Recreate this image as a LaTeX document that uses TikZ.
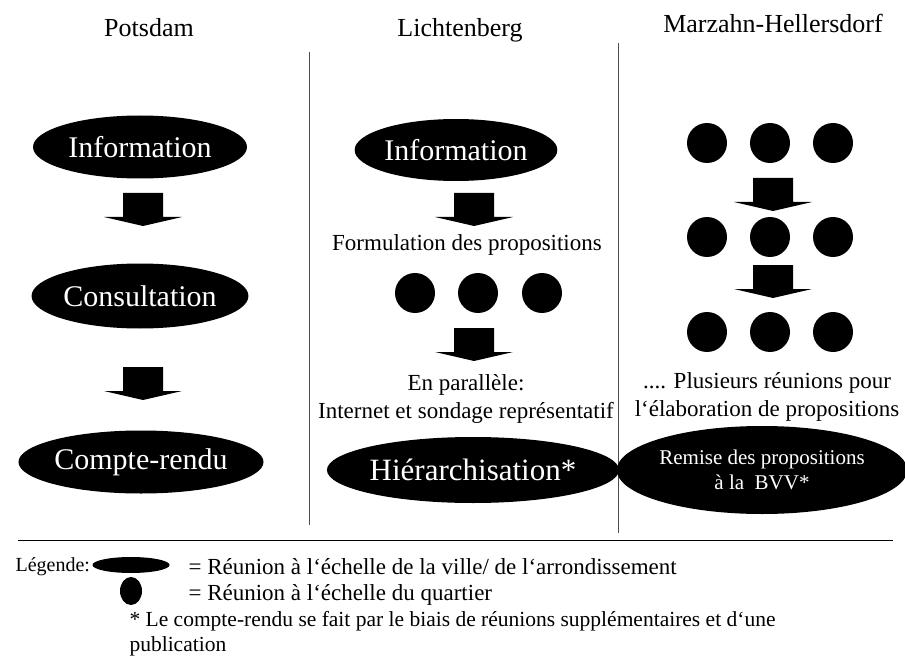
\documentclass[tikz,border=0pt]{standalone}
\usepackage{fontspec}
\setmainfont{Liberation Serif}
\usetikzlibrary{calc, positioning}
\usetikzlibrary{shapes.geometric}

\begin{document}
\begin{tikzpicture}[x=1pt, y=-1pt,
  meet/.style={ellipse, fill=black, text=white, inner sep=0pt, font=\fontsize{30}{34}\selectfont},
  dot/.style={circle, fill=black, minimum size=40pt, inner sep=0pt},
  title/.style={anchor=base, font=\fontsize{26}{30}\selectfont},
  note/.style={align=center, font=\fontsize{23}{28}\selectfont},
  legend/.style={anchor=west, align=left, font=\fontsize{23}{25}\selectfont},
  pics/blockarrow/.style={code={
    \fill (-20,0) -- (20,0) -- (20,24) -- (39,24) -- (0,33) -- (-39,24) -- (-20,24) -- cycle;
  }}]
\def\colA{141}
\def\colB{474}
\def\colC{770}

\useasboundingbox (0,0) rectangle (905,663);

\node[title] (tPots) at (149,37) {Potsdam};
\node[title] (tLich) at (460,37) {Lichtenberg};
\node[title] (tMarz) at (773,33) {Marzahn-Hellersdorf};

\coordinate (sepAtop) at (309,52);
\coordinate (sepAbot) at (309,525);
\coordinate (sepBtop) at (618,43);
\coordinate (sepBbot) at (618,533);
\coordinate (ruleL) at (18,540);
\coordinate (ruleR) at (893,540);
\draw[gray!60!black] (sepAtop) -- (sepAbot);
\draw[gray!60!black] (sepBtop) -- (sepBbot);
\draw[thick] (ruleL) -- (ruleR);

% Potsdam
\node[meet, minimum width=214pt, minimum height=63pt] (potInfo) at (140,147) {Information};
\node[meet, minimum width=214pt, minimum height=65pt] (potCons) at (140,296) {Consultation};
\node[meet, minimum width=217pt, minimum height=63pt] (potRendu) at (\colA,462) {Compte-rendu};
\pic at (143,193) {blockarrow};
\pic at (143,367) {blockarrow};

% Lichtenberg
\node[meet, minimum width=190pt, minimum height=62pt] (lichInfo) at (456,150) {Information};
\pic at (\colB,193) {blockarrow};
\node[note] (lichForm) at (467,245) {Formulation des propositions};
\foreach \col/\xx in {1/415, 2/478, 3/542} {
  \node[dot] (lichDot\col) at (\xx,293) {};
}
\pic at (\colB,328) {blockarrow};
\node[note] (lichPar) at (466,399) {En parallèle:\\Internet et sondage représentatif};
\node[meet, minimum width=270pt, minimum height=66pt, font=\fontsize{31}{35}\selectfont] (lichHier) at (473,470) {Hiérarchisation*};

% Marzahn-Hellersdorf
\foreach \row/\yy in {a/143, b/237, c/332} {
  \foreach \col/\xx in {1/707, 2/770, 3/833} {
    \node[dot] (marz\row\col) at (\xx,\yy) {};
  }
}
\pic at (773,178) {blockarrow};
\pic at (773,265) {blockarrow};
\node[note] (marzText) at (767,397) {.... Plusieurs réunions pour\\l‘élaboration de propositions};
\node[meet, minimum width=243pt, minimum height=88pt, align=center, font=\fontsize{21}{25}\selectfont] (marzRemise) at (762,470) {Remise des propositions\\à la~~BVV*};

% Legende
\node[anchor=west, font=\fontsize{20}{24}\selectfont] (legTitle) at (12,567) {Légende:};
\node[ellipse, fill=black, minimum width=77pt, minimum height=16pt, inner sep=0pt] (legBig) at (131,565) {};
\node[ellipse, fill=black, minimum width=22pt, minimum height=28pt, inner sep=0pt] (legSmall) at (131,591) {};
\node[legend] (legLine1) at (185,567) {= Réunion à l‘échelle de la ville/ de l‘arrondissement};
\node[legend] (legLine2) at (185,595) {= Réunion à l‘échelle du quartier};
\node[legend, font=\fontsize{21.5}{25}\selectfont] (legNote) at (126,634) {* Le compte-rendu se fait par le biais de réunions supplémentaires et d‘une\\publication};
\end{tikzpicture}
\end{document}
